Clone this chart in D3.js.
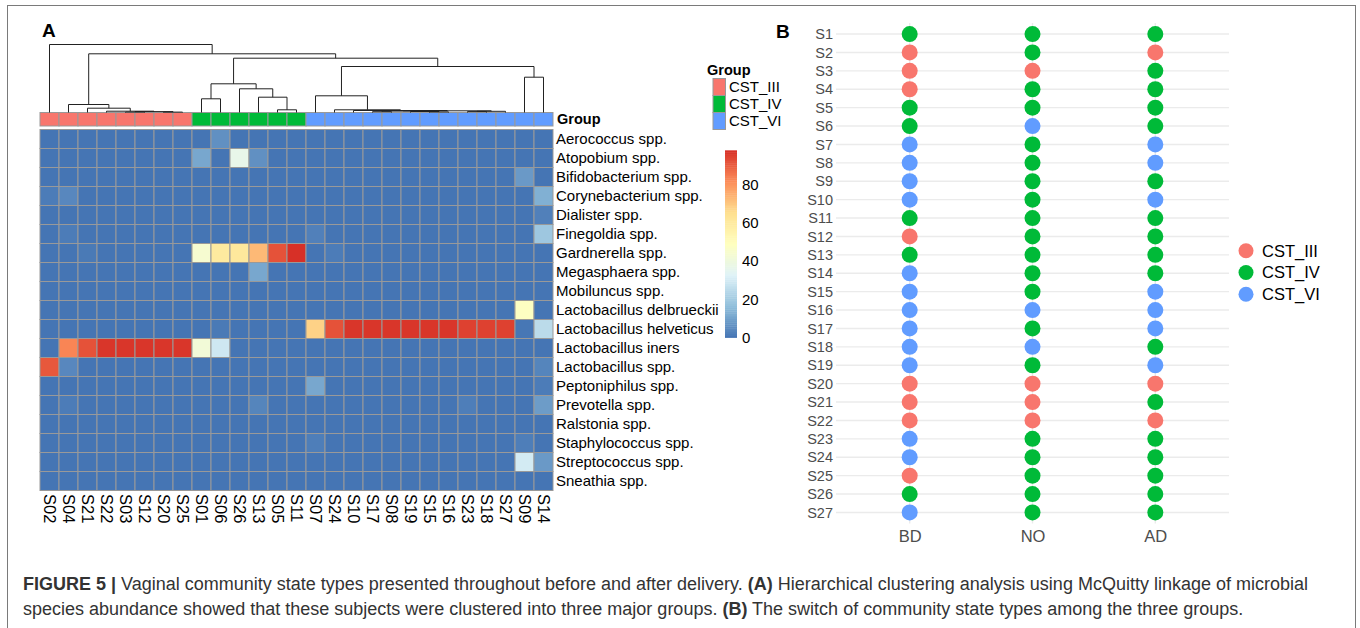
<!DOCTYPE html>
<html>
<head>
<meta charset="utf-8">
<script src="https://d3js.org/d3.v7.min.js"></script>
<style>
  body { margin: 0; background: #fff; }
  svg { display: block; font-family: "Liberation Sans", Arial, sans-serif; }
</style>
</head>
<body>
<svg id="fig" width="1360" height="628"></svg>
<script>
// ---------- panel A : heatmap data (columns in dendrogram order) ----------
var samples = ["S02","S04","S21","S22","S03","S12","S20","S25",
               "S01","S06","S26","S13","S05","S11",
               "S07","S24","S10","S17","S08","S19","S15","S16","S23","S18","S27","S09","S14"];
var sampleCST = ["III","III","III","III","III","III","III","III",
                 "IV","IV","IV","IV","IV","IV",
                 "VI","VI","VI","VI","VI","VI","VI","VI","VI","VI","VI","VI","VI"];
var species = ["Aerococcus spp.","Atopobium spp.","Bifidobacterium spp.","Corynebacterium spp.",
               "Dialister spp.","Finegoldia spp.","Gardnerella spp.","Megasphaera spp.",
               "Mobiluncus spp.","Lactobacillus delbrueckii","Lactobacillus helveticus",
               "Lactobacillus iners","Lactobacillus spp.","Peptoniphilus spp.","Prevotella spp.",
               "Ralstonia spp.","Staphylococcus spp.","Streptococcus spp.","Sneathia spp."];
// relative abundance (%), one row per species
var abundance = [
  [0,0,0,0,0,0,0,0, 0,6,0,0,0,0, 0,0,0,0,0,0,0,0,0,0,0,0,0],
  [0,0,0,0,0,0,0,0, 11,0,37,6,0,0, 0,0,0,0,0,0,0,0,0,0,0,0,0],
  [0,0,0,0,0,0,0,0, 0,0,0,0,0,0, 0,0,0,0,0,0,0,0,0,0,0,8,0],
  [1.5,4,0,0,0,0,0,0, 0,0,0,0,0,0, 0,0,0,0,0,0,0,0,0,0,0,0,13],
  [0,0,0,0,0,0,0,0, 0,0,0,0,0,0, 0,0,0,0,0,0,0,0,0,0,0,0,2.5],
  [0,1.5,0,0,0,0,0,0, 0,0,0,0,0,0, 2.5,0,0,0,0,0,0,0,0,0,0,0,19],
  [0,0,1,0,0,0,0,0, 44,60,61,73,92,98, 0,1.5,0,0,0,0,0,0,0,0,0,0,0],
  [0,0,0,0,0,0,0,0, 0,0,0,11,0,0, 0,0,0,0,0,0,0,0,0,0,0,0,0],
  [0,0,0,0,0,0,0,0, 0,0,0,0,0,0, 0,0,0,0,0,0,0,0,0,0,0,0,0],
  [0,0,0,0,0,0,0,0, 0,0,0,0,0,0, 0,0,0,0,0,0,0,0,0,0,0,48,0],
  [0,0,0,0,0,0,0,0, 0,1,0,0,0,0, 68,92,97,97,97,97,97,97,95,95,95,0.5,25],
  [0,83,92,97,97,97,97,97, 42,29,0,0,0,0, 0,0,0,0,0,0,0,0,0,0,0,0,0],
  [91,4,0,0,0,0,0,0, 0,0,0,0,0,0, 0,0,0,0,0,0,0,0,0,0,0,0,3.5],
  [0,0,0,0,0,0,0,0, 0,0,0,0,0,0, 11,0,0,0,0,0,0,0,0,0,0,0,1.5],
  [0,1.5,0,0,0,0,0,0, 0,0,0,3.5,0,0, 0,0,0,0,0,0,0,0,2,0,0,0,8.5],
  [0,0,0,0,0,0,0,0, 0,0,0,0,0,0, 0,0,0,0,0,0,0,0,0,0,0,0,0],
  [0,0,0,0,0,0,0,0, 0,0,0,0,0,0, 2,0,0,0,0,0,0,0,0,0,0,2,0],
  [0,0,0,0,0,0,0,0, 0,0,0,0,0,0, 0,0,0,0,0,0,0,0,0,0,0,30,8],
  [0,0,0,0,0,0,0,0, 0,0,0,0,0,0, 0,0,0,0,0,0,0,0,0,0,0,0,0]
];
// McQuitty clustering: [node, left, right, height]
var merges = [
  ["m1","S20","S25",0.4], ["m2","S03","S12",0.5], ["m3","m2","m1",0.9],
  ["m4","S22","m3",1.3], ["m5","S21","m4",4.3], ["m6","S04","m5",8.0],
  ["m7","S01","S06",13.7], ["m8","S05","S11",2.7], ["m9","S13","m8",15.3],
  ["m10","S26","m9",23.7], ["m11","m7","m10",28.7],
  ["m12","S17","S08",0.8], ["m13","S15","S16",0.6], ["m14","S23","S18",0.9],
  ["m15","m14","S27",1.2], ["m16","S19","m13",1.0], ["m17","m12","m16",1.4],
  ["m18","m17","m15",1.7], ["m19","S10","m18",2.0], ["m20","S24","m19",2.7],
  ["m21","S07","m20",16.7], ["m22","S09","S14",35.3], ["m23","m21","m22",46],
  ["m24","m11","m23",54.3], ["m25","m6","m24",58.7], ["m26","S02","m25",68]
];
var legendTicks = [0, 20, 40, 60, 80];

// ---------- panel B : CST per subject and stage ----------
var subjects = ["S1","S2","S3","S4","S5","S6","S7","S8","S9","S10","S11","S12","S13","S14",
                "S15","S16","S17","S18","S19","S20","S21","S22","S23","S24","S25","S26","S27"];
var stages = ["BD","NO","AD"];
var cstBD = ["IV","III","III","III","IV","IV","VI","VI","VI","VI","IV","III","IV","VI",
             "VI","VI","VI","VI","VI","III","III","III","VI","VI","III","IV","VI"];
var cstNO = ["IV","IV","III","IV","IV","VI","IV","IV","IV","IV","IV","IV","IV","IV",
             "IV","VI","IV","VI","IV","III","III","III","IV","IV","IV","IV","IV"];
var cstAD = ["IV","III","IV","IV","IV","IV","VI","VI","IV","VI","IV","IV","IV","IV",
             "VI","VI","VI","IV","VI","III","IV","III","IV","IV","IV","IV","IV"];
var groups = ["CST_III","CST_IV","CST_VI"];
var groupColors = ["#F8766D","#00BA38","#619CFF"];

var groupColor = d3.scaleOrdinal().domain(groups).range(groupColors);
var svg = d3.select("#fig");

// outer frame
svg.append("rect").attr("x", 7.5).attr("y", 5.5).attr("width", 1348).attr("height", 640)
  .attr("fill", "none").attr("stroke", "#7a7a7a").attr("stroke-width", 1);

svg.append("text").attr("x", 42).attr("y", 37).text("A")
  .attr("font-size", 19).attr("font-weight", "bold");
svg.append("text").attr("x", 776).attr("y", 38).text("B")
  .attr("font-size", 19).attr("font-weight", "bold");

// ---------- heatmap ----------
var xCol = d3.scaleBand().domain(samples).range([40, 553]);
var yRow = d3.scaleBand().domain(species).range([129.5, 490.5]);
var vmax = d3.max(abundance, function(r){ return d3.max(r); });
var palette = ["#4575B4","#91BFDB","#E0F3F8","#FFFFBF","#FEE090","#FC8D59","#D73027"];
var color = d3.scaleLinear()
  .domain(palette.map(function(c, i){ return vmax * i / (palette.length - 1); }))
  .range(palette)
  .interpolate(d3.interpolateRgb);

var cells = [];
species.forEach(function(sp, i){
  samples.forEach(function(s, j){
    cells.push({sp: sp, s: s, v: abundance[i][j]});
  });
});

var gHeat = svg.append("g");
gHeat.selectAll("rect").data(cells).enter().append("rect")
  .attr("x", function(d){ return xCol(d.s); })
  .attr("y", function(d){ return yRow(d.sp); })
  .attr("width", xCol.bandwidth())
  .attr("height", yRow.bandwidth())
  .attr("fill", function(d){ return color(d.v); })
  .attr("stroke", "#999999")
  .attr("stroke-width", 1);

// group annotation bar
svg.append("g").selectAll("rect").data(samples).enter().append("rect")
  .attr("x", function(d){ return xCol(d); })
  .attr("y", 112.5)
  .attr("width", xCol.bandwidth())
  .attr("height", 13.5)
  .attr("fill", function(d, i){ return groupColor("CST_" + sampleCST[i]); })
  .attr("stroke", "#999999")
  .attr("stroke-width", 1);

svg.append("text").attr("x", 557).attr("y", 124).text("Group")
  .attr("font-size", 14.5).attr("font-weight", "bold");

// row labels
svg.append("g").selectAll("text").data(species).enter().append("text")
  .attr("x", 556)
  .attr("y", function(d){ return yRow(d) + yRow.bandwidth() / 2; })
  .attr("dy", "0.36em")
  .attr("font-size", 15)
  .text(function(d){ return d; });

// column labels (rotated)
svg.append("g").selectAll("text").data(samples).enter().append("text")
  .attr("transform", function(d){
    return "translate(" + (xCol(d) + xCol.bandwidth() / 2) + ",494) rotate(90)";
  })
  .attr("dy", "0.36em")
  .attr("font-size", 16.5)
  .text(function(d){ return d; });

// dendrogram
var treeY = d3.scaleLinear().domain([0, d3.max(merges, function(m){ return m[3]; })]).range([112.5, 44.5]);
var nodes = {};
samples.forEach(function(s){
  nodes[s] = {x: xCol(s) + xCol.bandwidth() / 2, h: 0};
});
var treePaths = [];
merges.forEach(function(m){
  var a = nodes[m[1]], b = nodes[m[2]];
  nodes[m[0]] = {x: (a.x + b.x) / 2, h: m[3]};
  treePaths.push("M" + a.x + "," + treeY(a.h) + "V" + treeY(m[3]) + "H" + b.x + "V" + treeY(b.h));
});
svg.append("g").selectAll("path").data(treePaths).enter().append("path")
  .attr("d", function(d){ return d; })
  .attr("fill", "none")
  .attr("stroke", "#222")
  .attr("stroke-width", 1);

// group legend
svg.append("text").attr("x", 707).attr("y", 75).text("Group")
  .attr("font-size", 14.5).attr("font-weight", "bold");
var gLeg = svg.append("g").selectAll("g").data(groups).enter().append("g")
  .attr("transform", function(d, i){ return "translate(713," + (78.5 + i * 17) + ")"; });
gLeg.append("rect").attr("width", 12.5).attr("height", 17)
  .attr("fill", function(d){ return groupColor(d); })
  .attr("stroke", "#999999").attr("stroke-width", 1);
gLeg.append("text").attr("x", 16).attr("y", 8.5).attr("dy", "0.36em")
  .attr("font-size", 15).text(function(d){ return d; });

// colour bar
var yLeg = d3.scaleLinear().domain([0, vmax]).range([337.5, 337.5 - vmax * 1.91]);
var steps = d3.range(100).map(function(i){ return vmax * i / 100; });
svg.append("g").selectAll("rect").data(steps).enter().append("rect")
  .attr("x", 725)
  .attr("y", function(d){ return yLeg(d + vmax / 100); })
  .attr("width", 12)
  .attr("height", Math.abs(yLeg(0) - yLeg(vmax / 100)) + 0.4)
  .attr("fill", function(d){ return color(d + vmax / 200); });
var legAxis = svg.append("g").attr("transform", "translate(737,0)")
  .call(d3.axisRight(yLeg).tickValues(legendTicks).tickSize(0).tickPadding(5));
legAxis.select(".domain").remove();
legAxis.selectAll("text").attr("font-size", 15).attr("font-family", null).attr("fill", "#000");

// ---------- panel B : dot plot ----------
var yB = d3.scalePoint().domain(subjects).range([23, 523.5]).padding(0.6);
var xB = d3.scalePoint().domain(stages).range([836, 1229]).padding(0.6);

var gB = svg.append("g");
gB.selectAll("line.h").data(subjects).enter().append("line")
  .attr("class", "h")
  .attr("x1", 836).attr("x2", 1229)
  .attr("y1", function(d){ return yB(d); })
  .attr("y2", function(d){ return yB(d); })
  .attr("stroke", "#ebebeb").attr("stroke-width", 1.4);
gB.selectAll("line.v").data(stages).enter().append("line")
  .attr("class", "v")
  .attr("y1", 23).attr("y2", 523.5)
  .attr("x1", function(d){ return xB(d); })
  .attr("x2", function(d){ return xB(d); })
  .attr("stroke", "#ebebeb").attr("stroke-width", 1.4);

var stageCST = {BD: cstBD, NO: cstNO, AD: cstAD};
var dots = [];
stages.forEach(function(st){
  subjects.forEach(function(s, i){
    dots.push({stage: st, subject: s, cst: "CST_" + stageCST[st][i]});
  });
});
gB.selectAll("circle").data(dots).enter().append("circle")
  .attr("cx", function(d){ return xB(d.stage); })
  .attr("cy", function(d){ return yB(d.subject); })
  .attr("r", 8)
  .attr("fill", function(d){ return groupColor(d.cst); });

var yAxisB = svg.append("g").attr("transform", "translate(836,0)")
  .call(d3.axisLeft(yB).tickSize(0).tickPadding(3));
yAxisB.select(".domain").remove();
yAxisB.selectAll("text").attr("font-size", 14.5).attr("font-family", null).attr("fill", "#4d4d4d");

var xAxisB = svg.append("g").attr("transform", "translate(0,523.5)")
  .call(d3.axisBottom(xB).tickSize(0).tickPadding(7));
xAxisB.select(".domain").remove();
xAxisB.selectAll("text").attr("font-size", 16.5).attr("font-family", null).attr("fill", "#4d4d4d");

var legB = svg.append("g").selectAll("g").data(groups).enter().append("g")
  .attr("transform", function(d, i){ return "translate(1246," + (250.7 + i * 21.8) + ")"; });
legB.append("circle").attr("r", 7.5).attr("fill", function(d){ return groupColor(d); });
legB.append("text").attr("x", 16).attr("dy", "0.36em").attr("font-size", 16.5)
  .text(function(d){ return d; });

// ---------- caption ----------
var cap1 = svg.append("text").attr("x", 23).attr("y", 590).attr("font-size", 18).attr("fill", "#333");
cap1.append("tspan").attr("font-weight", "bold").text("FIGURE 5 |");
cap1.append("tspan").text(" Vaginal community state types presented throughout before and after delivery. ");
cap1.append("tspan").attr("font-weight", "bold").text("(A)");
cap1.append("tspan").text(" Hierarchical clustering analysis using McQuitty linkage of microbial");
var cap2 = svg.append("text").attr("x", 23).attr("y", 615).attr("font-size", 18).attr("fill", "#333");
cap2.append("tspan").text("species abundance showed that these subjects were clustered into three major groups. ");
cap2.append("tspan").attr("font-weight", "bold").text("(B)");
cap2.append("tspan").text(" The switch of community state types among the three groups.");
</script>
</body>
</html>
